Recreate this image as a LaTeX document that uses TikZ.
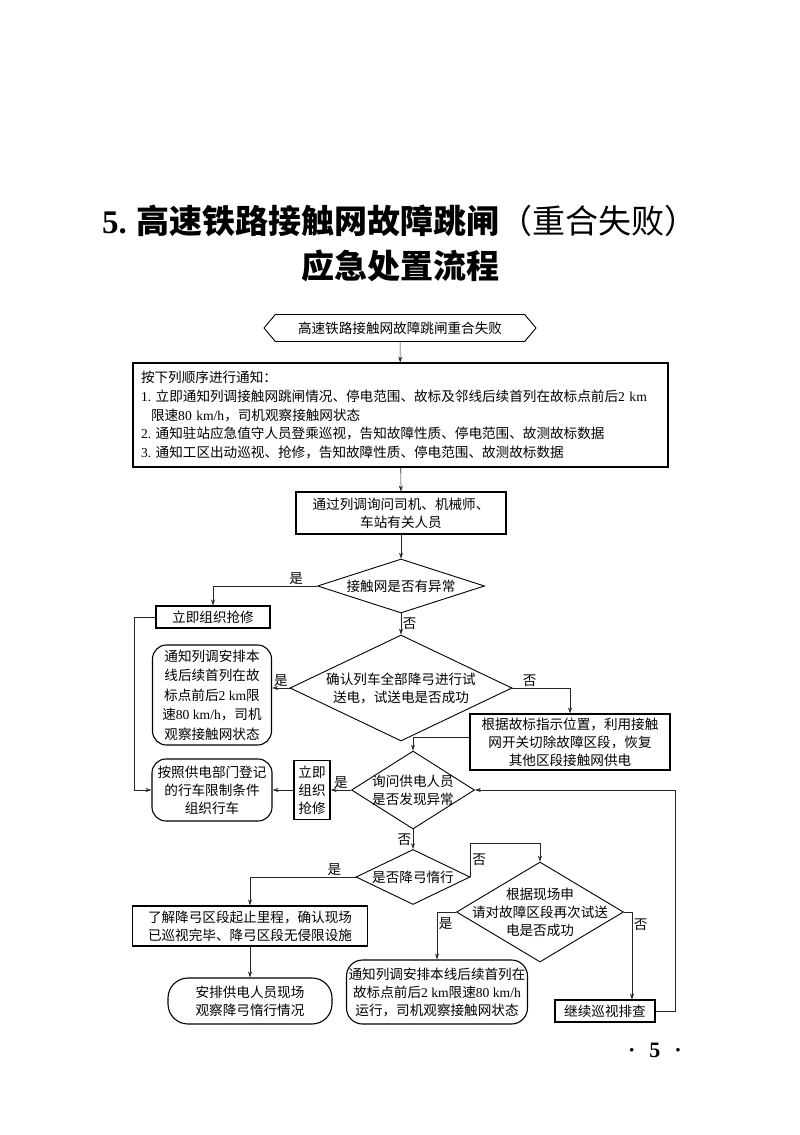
\documentclass[tikz,border=0pt]{standalone}
\usepackage{fontspec}
\setmainfont{Liberation Serif}
\newfontfamily\cjk{Noto Sans CJK SC}
\usetikzlibrary{shapes.geometric, shapes.symbols, arrows.meta}
\newcommand{\latn}[1]{{\rmfamily #1}}

\begin{document}
\begin{tikzpicture}[
    x=1pt, y=-1pt,
    every node/.style={font=\cjk\fontsize{13.6}{18}\selectfont},
    box/.style={rectangle, draw=black, line width=1.1pt, align=center, inner sep=2pt},
    rbox/.style={box, rounded corners=14pt},
    dec/.style={diamond, draw=black, line width=0.9pt, align=center, inner sep=0pt},
    startbox/.style={signal, signal to=west and east, signal pointer angle=100, draw=black, line width=0.9pt},
    lbl/.style={inner sep=1.5pt},
    arrow/.style={-{Stealth[length=6pt, width=4pt]}, line width=0.6pt, draw=black!85}
]
\useasboundingbox (0,0) rectangle (800,1135);

% Title
\node[font=\cjk\fontsize{33}{45}\selectfont, align=center] (title) at (400,243)
    {\textbf{\latn{5.} 高速铁路接触网故障跳闸}（重合失败）\\\textbf{应急处置流程}};

% Nodes
\node[startbox, minimum width=272, minimum height=27] (start) at (400,328) {高速铁路接触网故障跳闸重合失败};
\node[box, align=left, text width=519, inner xsep=8, minimum height=104, font=\cjk\fontsize{13.6}{18.7}\selectfont] (notice) at (400.5,415)
    {按下列顺序进行通知：\\
     \latn{1.}~立即通知列调接触网跳闸情况、停电范围、故标及邻线后续首列在故标点前后\latn{2~km}\\
     \hspace*{10pt}限速\latn{80~km/h}，司机观察接触网状态\\
     \latn{2.}~通知驻站应急值守人员登乘巡视，告知故障性质、停电范围、故测故标数据\\
     \latn{3.}~通知工区出动巡视、抢修，告知故障性质、停电范围、故测故标数据};
\node[box, minimum width=210, minimum height=42] (ask) at (401,513) {通过列调询问司机、机械师、\\车站有关人员};
\node[dec, minimum width=167, minimum height=54, aspect=3.1] (d1) at (401,586) {接触网是否有异常};
\node[box, minimum width=114, minimum height=22] (rep1) at (213,617) {立即组织抢修};
\node[dec, minimum width=222, minimum height=106, aspect=2.1] (d2) at (401,688) {确认列车全部降弓进行试\\送电，试送电是否成功};
\node[rbox, minimum width=119, minimum height=100, font=\cjk\fontsize{13.6}{19.5}\selectfont] (notify1) at (212,695)
    {通知列调安排本\\线后续首列在故\\标点前后\latn{2~km}限\\速\latn{80~km/h}，司机\\观察接触网状态};
\node[box, minimum width=200, minimum height=56] (cut) at (570,742) {根据故标指示位置，利用接触\\网开关切除故障区段，恢复\\其他区段接触网供电};
\node[dec, minimum width=123, minimum height=78, aspect=1.6, inner sep=-4pt] (d3) at (413,790) {询问供电人员\\是否发现异常};
\node[box, minimum width=36, minimum height=59] (rep2) at (312,790) {立即\\组织\\抢修};
\node[rbox, minimum width=120, minimum height=62] (limit) at (212,790) {按照供电部门登记\\的行车限制条件\\组织行车};
\node[dec, minimum width=114, minimum height=55, aspect=2.1] (d4) at (413,877) {是否降弓惰行};
\node[box, minimum width=235, minimum height=40] (learn) at (250,926) {了解降弓区段起止里程，确认现场\\已巡视完毕、降弓区段无侵限设施};
\node[rbox, rounded corners=20pt, minimum width=164, minimum height=46] (watch) at (250,1001) {安排供电人员现场\\观察降弓惰行情况};
\node[dec, minimum width=167, minimum height=100, aspect=1.67, inner sep=-14pt] (d5) at (540,912) {根据现场申\\请对故障区段再次试送\\电是否成功};
\node[rbox, rounded corners=16pt, minimum width=181, minimum height=64] (notify2) at (437,992)
    {通知列调安排本线后续首列在\\故标点前后\latn{2~km}限速\latn{80~km/h}\\运行，司机观察接触网状态};
\node[box, minimum width=100, minimum height=22] (cont) at (605,1011) {继续巡视排查};
\node[font=\rmfamily\bfseries\fontsize{22}{22}\selectfont] (page) at (655,1050) {·\hspace*{14pt}5\hspace*{14pt}·};

% Arrows
\draw[arrow] (start) -- (notice);
\draw[arrow] (notice) -- (ask);
\draw[arrow] (ask) -- (d1);
\draw[arrow] (d1.west) -| node[lbl, pos=0.1, above] {是} (rep1.north);
\draw[arrow] (rep1.west) -- ++(-21,0) |- (limit.west);
\draw[arrow] (d1.south) -- node[lbl, right] {否} (d2.north);
\draw[arrow] (d2.west) -- node[lbl, above] {是} (d2.west -| notify1.east);
\draw[arrow] (d2.east) -| node[lbl, pos=0.15, above] {否} (cut.north);
\draw[arrow] ([yshift=5pt]cut.west) -| (d3.north);
\draw[arrow] (d3.west) -- node[lbl, above] {是} (rep2.east);
\draw[arrow] (rep2.west) -- (limit.east);
\draw[arrow] (d3.south) -- node[lbl, left] {否} (d4.north);
\draw[arrow] (d4.west) -| node[lbl, pos=0.1, above] {是} (learn.north);
\draw[arrow] (d4.east) -- node[lbl, right] {否} ++(0,-34) -| (d5.north);
\draw[arrow] (d5.west) -| node[lbl, pos=0.62, right] {是} (notify2.north);
\draw[arrow] (d5.east) -| node[lbl, pos=0.57, right] {否} ([xshift=27pt]cont.north);
\draw[arrow] (cont.east) -- ++(20,0) |- (d3.east);
\draw[arrow] (learn) -- (watch);

\end{tikzpicture}
\end{document}
